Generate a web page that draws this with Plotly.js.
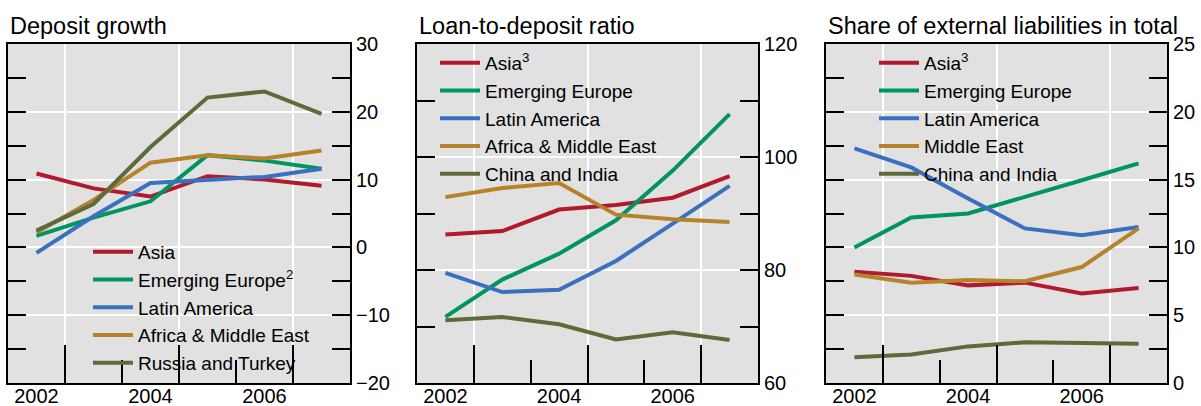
<!DOCTYPE html>
<html>
<head>
<meta charset="utf-8">
<script src="https://cdn.plot.ly/plotly-3.0.1.min.js"></script>
<style>html,body{margin:0;padding:0;background:#fff;}#chart{width:1201px;height:406px;}</style>
</head>
<body>
<div id="chart"></div>
<script>
// ---- data ----
var years = [2002, 2003, 2004, 2005, 2006, 2007];
var yearLabels = ["2002", "2004", "2006"];
var yearLabelVals = [2002, 2004, 2006];

var panelTitles = ["Deposit growth", "Loan-to-deposit ratio", "Share of external liabilities in total"];

var names1 = ["Asia", "Emerging Europe<sup>2</sup>", "Latin America", "Africa & Middle East", "Russia and Turkey"];
var dg_asia   = [10.9, 8.7, 7.5, 10.5, 10.0, 9.1];
var dg_europe = [1.7, 4.4, 6.8, 13.6, 12.8, 11.6];
var dg_latam  = [-0.8, 4.6, 9.5, 9.9, 10.4, 11.6];
var dg_africa = [2.2, 7.0, 12.5, 13.6, 13.1, 14.3];
var dg_russia = [2.5, 6.4, 14.8, 22.1, 23.0, 19.7];

var names2 = ["Asia<sup>3</sup>", "Emerging Europe", "Latin America", "Africa & Middle East", "China and India"];
var ld_asia   = [86.3, 86.9, 90.7, 91.5, 92.8, 96.6];
var ld_europe = [71.7, 78.3, 82.9, 88.8, 97.6, 107.6];
var ld_latam  = [79.5, 76.1, 76.5, 81.6, 88.2, 94.9];
var ld_africa = [92.9, 94.5, 95.4, 89.8, 89.0, 88.5];
var ld_china  = [71.1, 71.7, 70.4, 67.7, 69.0, 67.6];

var names3 = ["Asia<sup>3</sup>", "Emerging Europe", "Latin America", "Middle East", "China and India"];
var sh_asia   = [8.2, 7.9, 7.2, 7.4, 6.6, 7.0];
var sh_europe = [10.0, 12.2, 12.5, 13.7, 14.95, 16.2];
var sh_latam  = [17.3, 15.9, 13.6, 11.4, 10.9, 11.5];
var sh_me     = [8.0, 7.4, 7.6, 7.5, 8.55, 11.4];
var sh_china  = [1.9, 2.1, 2.7, 3.0, 2.95, 2.9];

// ---- style ----
var colors = ["#b2192d", "#00945e", "#3b6fbf", "#b5832c", "#5e6a3a"];
var FONT = 'Arial, "Liberation Sans", sans-serif';
var W = 1201, H = 406;

var panels = [
  {series: [dg_asia, dg_europe, dg_latam, dg_africa, dg_russia], names: names1, range: [-20, 30], dtick: 10, left: 8, right: 350, legX: 88, legY: 233},
  {series: [ld_asia, ld_europe, ld_latam, ld_africa, ld_china], names: names2, range: [60, 120], dtick: 20, left: 417, right: 758, legX: 435, legY: 44},
  {series: [sh_asia, sh_europe, sh_latam, sh_me, sh_china], names: names3, range: [0, 25], dtick: 5, left: 826, right: 1167, legX: 874, legY: 44}
];

var traces = [];
var layout = {
  width: W, height: H,
  margin: {l: 0, r: 0, t: 0, b: 0},
  paper_bgcolor: "#ffffff",
  font: {family: FONT, size: 20, color: "#000"},
  showlegend: true,
  annotations: [],
  shapes: []
};
var plotTop = 44, plotBottom = 383;
var yDom = [1 - plotBottom / H, 1 - plotTop / H];

panels.forEach(function (p, i) {
  var n = i + 1;
  var xs = n === 1 ? "" : String(n);
  var legName = n === 1 ? "legend" : "legend" + n;
  p.series.forEach(function (vals, k) {
    traces.push({
      type: "scatter", mode: "lines",
      x: years, y: vals, name: p.names[k],
      xaxis: "x" + xs, yaxis: "y" + xs,
      line: {color: colors[k], width: 4},
      legend: legName
    });
  });
  // overlay axis for short year ticks
  traces.push({type: "scatter", mode: "lines", x: [], y: [], xaxis: "x" + (n + 3), yaxis: "y" + xs, showlegend: false, hoverinfo: "skip"});

  var xDom = [p.left / W, p.right / W];
  layout["xaxis" + xs] = {
    domain: xDom, anchor: "y" + xs, range: [2001.5, 2007.5],
    tickmode: "array", tickvals: yearLabelVals, ticktext: yearLabels,
    ticks: "", showgrid: false, zeroline: false,
    showline: true, linecolor: "#000", linewidth: 2, mirror: true,
    tickfont: {family: FONT, size: 20, color: "#000"},
    ticklabelstandoff: -6,
    minor: {tickmode: "array", tickvals: [2002.5, 2004.5, 2006.5], ticks: "inside", ticklen: 38, tickwidth: 2, tickcolor: "#000", showgrid: true, gridcolor: "#ffffff", gridwidth: 2},
    fixedrange: true
  };
  layout["xaxis" + (n + 3)] = {
    overlaying: "x" + xs, anchor: "y" + xs, side: "bottom", range: [2001.5, 2007.5],
    tickmode: "array", tickvals: [2003.5, 2005.5], ticks: "inside", ticklen: 23, tickwidth: 2, tickcolor: "#000",
    showticklabels: false, showgrid: false, zeroline: false, showline: false
  };
  layout["yaxis" + xs] = {
    domain: yDom, anchor: "x" + xs, range: p.range, side: "right",
    dtick: p.dtick, tick0: 0, ticks: "inside", ticklen: 18, tickwidth: 2, tickcolor: "#000",
    showgrid: true, gridcolor: "#ffffff", gridwidth: 2, zeroline: false,
    showline: true, linecolor: "#000", linewidth: 2, mirror: "allticks",
    tickfont: {family: FONT, size: 20, color: "#000"},
    minor: {dtick: p.dtick / 2, tick0: 0, ticks: "inside", ticklen: 18, tickwidth: 2, tickcolor: "#000", showgrid: false},
    fixedrange: true
  };
  layout.shapes.push({type: "rect", xref: "x" + xs + " domain", yref: "y" + xs + " domain", x0: 0, x1: 1, y0: 0, y1: 1, fillcolor: "#e1e1e1", line: {width: 0}, layer: "below"});
  layout[legName] = {
    x: p.legX / W, y: 1 - p.legY / H, xanchor: "left", yanchor: "top",
    bgcolor: "rgba(0,0,0,0)", borderwidth: 0,
    font: {family: FONT, size: 19, color: "#000"},
    itemwidth: 40,
    tracegroupgap: 0
  };
  layout.annotations.push({
    text: panelTitles[i], xref: "paper", yref: "paper",
    x: p.left / W, y: 1 - 26 / H, xanchor: "left", yanchor: "middle",
    showarrow: false, font: {family: FONT, size: 23.5, color: "#000"}
  });
});

Plotly.newPlot("chart", traces, layout, {displayModeBar: false, staticPlot: true});
</script>
</body>
</html>
